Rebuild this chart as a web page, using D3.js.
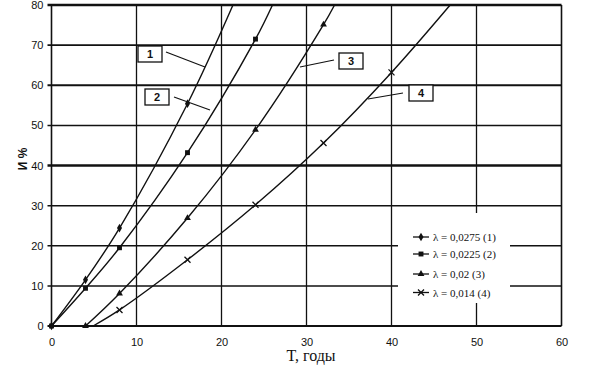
<!DOCTYPE html>
<html><head><meta charset="utf-8">
<script src="https://cdn.jsdelivr.net/npm/d3@7"></script>
<style>body{margin:0;background:#fff}svg{display:block}</style>
</head><body><svg id="c" width="600" height="367"></svg>
<script>
// ---- data ----
const xTicks = [0,10,20,30,40,50,60];
const yTicks = [0,10,20,30,40,50,60,70,80];
// curve 1: λ = 0.0275
const t1 = [0, 4, 8, 16, 21.35];
const v1 = [0, 11.5, 24.4, 55.4, 80];
// curve 2: λ = 0.0225
const t2 = [0, 4, 8, 16, 24, 26.0];
const v2 = [0, 9.4, 19.5, 43.2, 71.5, 80];
// curve 3: λ = 0.02
const t3 = [4, 8, 16, 24, 32, 33.3];
const v3 = [0, 8.1, 26.9, 48.9, 75.1, 80];
// curve 4: λ = 0.014
const t4 = [4.9, 8, 16, 24, 32, 40, 46.9];
const v4 = [0, 4.0, 16.5, 30.2, 45.6, 63.2, 80];
// which points carry a marker (indexes)
const m1 = [0,1,2,3];
const m2 = [0,1,2,3,4];
const m3 = [0,1,2,3,4];
const m4 = [1,2,3,4,5];
const legendLabels = ["λ = 0,0275 (1)","λ = 0,0225 (2)","λ = 0,02 (3)","λ = 0,014 (4)"];
const curveLabels = ["1","2","3","4"];

const svg = d3.select("#c");
const x = d3.scaleLinear().domain([0,60]).range([51.5,561.5]);
const y = d3.scaleLinear().domain([0,80]).range([326,5]);
const ink = "#111";

// grid
const g = svg.append("g");
g.selectAll(".vg").data(xTicks).join("line")
  .attr("x1",d=>x(d)).attr("x2",d=>x(d)).attr("y1",y(0)).attr("y2",y(80))
  .attr("stroke",ink).attr("stroke-width",d=>(d===0||d===60)?1.6:1.3);
g.selectAll(".hg").data(yTicks).join("line")
  .attr("x1",x(0)-4).attr("x2",x(60)).attr("y1",d=>y(d)).attr("y2",d=>y(d))
  .attr("stroke",ink).attr("stroke-width",d=>(d===80||d===40)?2.4:(d===70||d===60||d===0)?1.8:1.5);

// legend background box (covers grid)
svg.append("rect").attr("x",398).attr("y",213).attr("width",112).attr("height",90).attr("fill","#fff");

// axes labels
const yAxis = d3.axisLeft(y).tickValues(yTicks).tickSize(0).tickPadding(8);
const ya = svg.append("g").attr("transform",`translate(${x(0)},0)`).call(yAxis);
ya.select(".domain").remove();
ya.selectAll("text").attr("font-family","Liberation Sans, Arial, sans-serif").attr("font-size",11).attr("fill",ink);
const xAxis = d3.axisBottom(x).tickValues(xTicks).tickSize(0).tickPadding(12);
const xa = svg.append("g").attr("transform",`translate(0,${y(0)})`).call(xAxis);
xa.select(".domain").remove();
xa.selectAll("text").attr("font-family","Liberation Sans, Arial, sans-serif").attr("font-size",11).attr("fill",ink);

svg.append("text").attr("x",311).attr("y",361).attr("text-anchor","middle")
  .attr("font-family","Liberation Serif, Times New Roman, serif").attr("font-size",16).attr("fill",ink).text("T, годы");
svg.append("text").attr("transform","translate(27,159) rotate(-90)").attr("text-anchor","middle")
  .attr("font-family","Liberation Sans, Arial, sans-serif").attr("font-weight","bold").attr("font-size",12).attr("fill",ink).text("И %");

// curves
const series = [
  {t:t1,v:v1,m:m1,sym:"diamond"},
  {t:t2,v:v2,m:m2,sym:"square"},
  {t:t3,v:v3,m:m3,sym:"triangle"},
  {t:t4,v:v4,m:m4,sym:"cross"}
];
const line = d3.line().x(d=>x(d[0])).y(d=>y(d[1])).curve(d3.curveCatmullRom.alpha(0.5));
function drawMarker(sel, sym, cx, cy){
  if(sym==="cross"){
    sel.append("path").attr("d",`M${cx-3},${cy-3}L${cx+3},${cy+3}M${cx-3},${cy+3}L${cx+3},${cy-3}`)
      .attr("stroke",ink).attr("stroke-width",1.3).attr("fill","none");
  } else {
    const type = sym==="diamond"?d3.symbolDiamond:sym==="square"?d3.symbolSquare:d3.symbolTriangle;
    const size = sym==="diamond"?22:sym==="square"?24:20;
    sel.append("path").attr("d",d3.symbol(type,size)()).attr("transform",`translate(${cx},${cy})`).attr("fill",ink);
  }
}
series.forEach(s=>{
  const pts = s.t.map((t,i)=>[t,s.v[i]]);
  svg.append("path").datum(pts).attr("d",line).attr("fill","none").attr("stroke",ink).attr("stroke-width",1.4);
  s.m.forEach(i=>drawMarker(svg, s.sym, x(s.t[i]), y(s.v[i])));
});

// curve label boxes with leaders
const boxes = [
  {bx:138,by:46,lx1:166,ly1:52,lx2:205,ly2:67},
  {bx:145,by:89,lx1:174,ly1:97,lx2:210,ly2:110},
  {bx:339,by:53,lx1:334,ly1:60,lx2:300,ly2:67},
  {bx:409,by:85,lx1:403,ly1:93,lx2:368,ly2:99}
];
boxes.forEach((b,i)=>{
  svg.append("line").attr("x1",b.lx1).attr("y1",b.ly1).attr("x2",b.lx2).attr("y2",b.ly2).attr("stroke",ink).attr("stroke-width",1.2);
  svg.append("rect").attr("x",b.bx).attr("y",b.by).attr("width",24).attr("height",16).attr("fill","#fff").attr("stroke",ink).attr("stroke-width",1.3);
  svg.append("text").attr("x",b.bx+12).attr("y",b.by+12).attr("text-anchor","middle")
    .attr("font-family","Liberation Sans, Arial, sans-serif").attr("font-weight","bold").attr("font-size",11).attr("fill",ink).text(curveLabels[i]);
});

// legend
const ly = [237,254,274,292.5];
series.forEach((s,i)=>{
  svg.append("line").attr("x1",413).attr("x2",429).attr("y1",ly[i]).attr("y2",ly[i]).attr("stroke",ink).attr("stroke-width",1.3);
  drawMarker(svg, s.sym, 421, ly[i]);
  svg.append("text").attr("x",433).attr("y",ly[i]+4).attr("font-family","Liberation Serif, Times New Roman, serif")
    .attr("font-size",11).attr("fill",ink).text(legendLabels[i]);
});
</script></body></html>
